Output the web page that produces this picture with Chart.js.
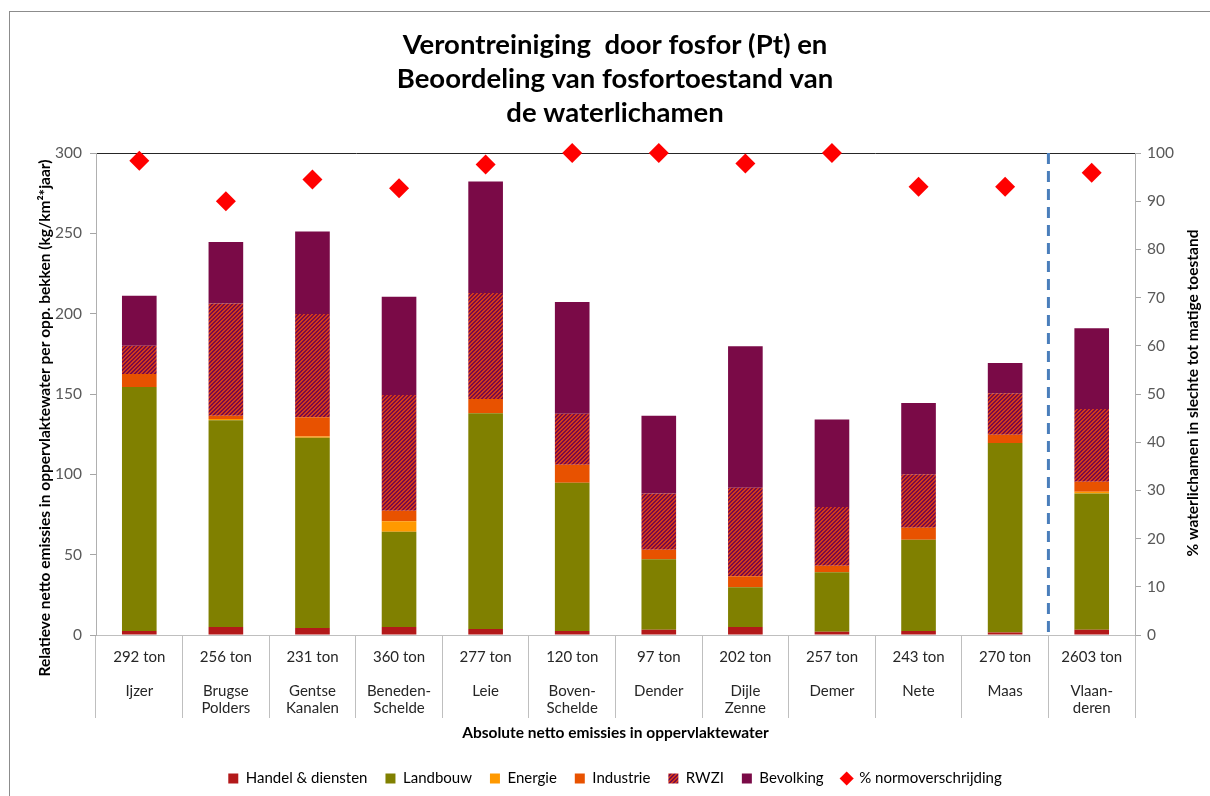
<!DOCTYPE html>
<html>
<head>
<meta charset="utf-8">
<script src="https://cdn.jsdelivr.net/npm/chart.js@4.4.1/dist/chart.umd.min.js"></script>
<style>
  body { margin: 0; background: #fff; }
  #wrap { width: 1210px; height: 796px; }
</style>
</head>
<body>
<div id="wrap"><canvas id="chart" width="1210" height="796"></canvas></div>
<script>
// bekkens + absolute emissies
const regio = [["Ijzer"], ["Brugse", "Polders"], ["Gentse", "Kanalen"], ["Beneden-", "Schelde"], ["Leie"], ["Boven-", "Schelde"], ["Dender"], ["Dijle", "Zenne"], ["Demer"], ["Nete"], ["Maas"], ["Vlaan-", "deren"]];
const tonnen = ["292 ton", "256 ton", "231 ton", "360 ton", "277 ton", "120 ton", "97 ton", "202 ton", "257 ton", "243 ton", "270 ton", "2603 ton"];

// kg/km2*jaar per sector
const handel = [2.5, 5.0, 4.4, 5.0, 3.7, 2.5, 3.3, 5.0, 2.1, 2.5, 1.5, 3.3];
const landbouw = [151.9, 128.6, 118.4, 59.3, 134.3, 92.3, 43.8, 24.7, 36.9, 56.8, 118.0, 84.7];
const energie = [0, 0.8, 0.7, 6.5, 0, 0, 0, 0, 0, 0, 0, 1.2];
const industrie = [8.0, 2.1, 12.0, 6.6, 8.9, 11.2, 6.0, 6.8, 4.1, 7.5, 5.2, 6.2];
const rwzi = [17.7, 69.9, 64.3, 72.0, 66.0, 31.7, 34.9, 55.2, 36.6, 33.2, 25.7, 45.3];
const bevolking = [31.1, 38.2, 51.4, 61.2, 69.3, 69.6, 48.5, 88.0, 54.5, 44.4, 18.9, 50.2];

// % waterlichamen slechte tot matige toestand
const normover = [98.4, 90.0, 94.5, 92.7, 97.6, 100, 100, 97.8, 100, 93.0, 93.0, 95.9];

const labels = regio.map((r, i) => [tonnen[i], ""].concat(r));

// arcering voor RWZI (pixel per pixel, geen anti-aliasing)
const hatch = (() => {
  const c = document.createElement("canvas");
  c.width = 4; c.height = 4;
  const g = c.getContext("2d");
  g.fillStyle = "#D23A1C";
  g.fillRect(0, 0, 4, 4);
  g.fillStyle = "#7A0A47";
  for (let i = 0; i < 4; i++) {
    g.fillRect(i, 3 - i, 1, 1);
    g.fillRect(i, (4 - i) % 4, 1, 1);
  }
  return g.createPattern(c, "repeat");
})();

Chart.defaults.font.family = "Lato, 'Open Sans', sans-serif";
Chart.defaults.color = "#262626";

const extras = {
  id: "extras",
  beforeDraw(chart) {
    const ctx = chart.ctx;
    ctx.save();
    ctx.strokeStyle = "#8C8C8C";
    ctx.lineWidth = 1;
    ctx.strokeRect(9.5, 11.5, 1400, 1000);
    ctx.restore();
  },
  afterDraw(chart) {
    const ctx = chart.ctx;
    const a = chart.chartArea;
    const x = chart.scales.x;
    ctx.save();
    // scheiding Vlaanderen
    const xs = (x.getPixelForValue(10) + x.getPixelForValue(11)) / 2;
    ctx.strokeStyle = "#4A7EBB";
    ctx.lineWidth = 3;
    ctx.setLineDash([11, 7]);
    ctx.beginPath();
    ctx.moveTo(xs, a.top);
    ctx.lineTo(xs, a.bottom);
    ctx.stroke();
    ctx.setLineDash([]);
    // astitels
    ctx.fillStyle = "#000";
    ctx.font = "bold 15.5px Lato";
    ctx.textAlign = "center";
    ctx.textBaseline = "middle";
    ctx.translate(45, a.top + 265);
    ctx.rotate(-Math.PI / 2);
    ctx.fillText("Relatieve netto emissies in oppervlaktewater per opp. bekken (kg/km\u00B2*jaar)", 0, 0);
    ctx.setTransform(1, 0, 0, 1, 0, 0);
    ctx.translate(1193, a.top + 240);
    ctx.rotate(-Math.PI / 2);
    ctx.fillText("% waterlichamen in slechte tot matige toestand", 0, 0);
    ctx.restore();
  }
};

const bar = (label, data, color) => ({
  type: "bar", label, data, backgroundColor: color, borderWidth: 0,
  barPercentage: 0.4, categoryPercentage: 1, stack: "s", yAxisID: "y"
});

new Chart(document.getElementById("chart"), {
  data: {
    labels: labels,
    datasets: [
      bar("Handel & diensten", handel, "#B3191A"),
      bar("Landbouw", landbouw, "#808000"),
      bar("Energie", energie, "#FF9900"),
      bar("Industrie", industrie, "#E85200"),
      bar("RWZI", rwzi, hatch),
      bar("Bevolking", bevolking, "#7A0A47"),
      {
        type: "line", label: "% normoverschrijding", data: normover, yAxisID: "y1",
        showLine: false, pointStyle: "rectRot", pointRadius: 10, clip: false,
        backgroundColor: "#FF0000", borderColor: "#FF0000", borderWidth: 0
      }
    ]
  },
  options: {
    responsive: false,
    animation: false,
    layout: { padding: { left: 20, right: 0, top: 0, bottom: 0 } },
    plugins: {
      tooltip: { enabled: false },
      title: {
        display: true,
        text: ["Verontreiniging  door fosfor (Pt) en", "Beoordeling van fosfortoestand van", "de waterlichamen"],
        color: "#000",
        font: { size: 27.5, weight: "bold", lineHeight: 1.2364 },
        padding: { top: 28, bottom: 23 }
      },
      legend: {
        position: "bottom",
        labels: {
          usePointStyle: true,
          boxWidth: 10, boxHeight: 10,
          padding: 18,
          color: "#000",
          font: { size: 15 },
          generateLabels(chart) {
            const items = Chart.defaults.plugins.legend.labels.generateLabels(chart);
            return items.map((it, i) => Object.assign(it, {
              pointStyle: i === 6 ? "rectRot" : "rect", lineWidth: 0
            }));
          }
        }
      }
    },
    scales: {
      x: {
        stacked: true,
        afterFit(s) { s.height = 118; },
        grid: {
          offset: true, drawOnChartArea: false, tickLength: 83,
          color: "#BFBFBF", tickColor: "#BFBFBF"
        },
        border: { display: true, color: "#BFBFBF" },
        ticks: {
          autoSkip: false, maxRotation: 0, padding: -69.5,
          color: "#262626",
          font: { size: 15, lineHeight: 1.13 }
        },
        title: {
          display: true, text: "Absolute netto emissies in oppervlaktewater",
          color: "#000", font: { size: 15.5, weight: "bold", lineHeight: 1.2 },
          padding: { top: 0, bottom: 11 }
        }
      },
      y: {
        stacked: true, position: "left", min: 0, max: 300,
        afterFit(s) { s.width = 76; },
        grid: {
          drawOnChartArea: true, tickLength: 6, tickColor: "#A6A6A6",
          color: (c) => (c.tick && c.tick.value === 300 ? "#262626" : "rgba(0,0,0,0)")
        },
        border: { display: true, color: "#B0B0B0" },
        ticks: { stepSize: 50, padding: 8, color: "#595959", font: { size: 15.5 } }
      },
      y1: {
        position: "right", min: 0, max: 100,
        afterFit(s) { s.width = 75; },
        grid: { drawOnChartArea: false, tickLength: 6, tickColor: "#A6A6A6" },
        border: { display: true, color: "#B0B0B0" },
        ticks: { stepSize: 10, padding: 6, color: "#595959", font: { size: 15.5 } }
      }
    }
  },
  plugins: [extras]
});
</script>
</body>
</html>
